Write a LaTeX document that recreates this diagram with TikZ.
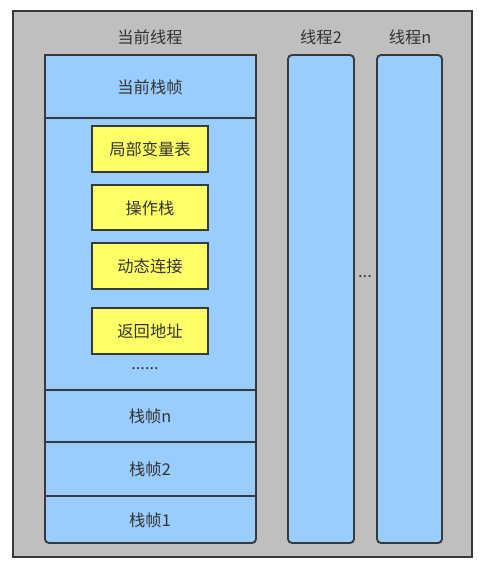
\documentclass[tikz,border=0pt]{standalone}
\usepackage{fontspec}
\newfontfamily\cjk{Noto Sans CJK SC}
\definecolor{outerfill}{HTML}{BFBFBF}
\definecolor{bluefill}{HTML}{99CCFF}
\definecolor{yellowfill}{HTML}{FFFF66}
\definecolor{strokec}{HTML}{36393D}
\definecolor{textc}{HTML}{333333}
\begin{document}
\begin{tikzpicture}[x=0.75pt,y=-0.75pt,
  every node/.style={font=\cjk\fontsize{12.2}{14}\selectfont, text=textc},
  box/.style={draw=strokec, line width=1.4pt},
  lbl/.style={inner sep=0pt, anchor=center}]
\useasboundingbox (0,0) rectangle (483,566);
\fill[white] (0,0) rectangle (483,566);
% outer container
\draw[box, fill=outerfill] (13,11) rectangle (472,557);
% current thread column
\draw[box, fill=bluefill, rounded corners=3pt] (45,55) rectangle (256,543);
\draw[box, fill=bluefill, sharp corners] (45,55) rectangle (256,118);
\draw[box] (45,390) -- (256,390);
\draw[box] (45,442) -- (256,442);
\draw[box] (45,496) -- (256,496);
% other threads
\draw[box, fill=bluefill, rounded corners=3pt] (288,55) rectangle (354,543);
\draw[box, fill=bluefill, rounded corners=3pt] (377,55) rectangle (442,543);
% yellow boxes
\draw[box, fill=yellowfill] (92,126) rectangle (208,172);
\draw[box, fill=yellowfill] (92,185) rectangle (208,230);
\draw[box, fill=yellowfill] (92,243) rectangle (208,289);
\draw[box, fill=yellowfill] (92,308) rectangle (208,354);
% labels
\node[lbl] (tcur) at (150,37) {当前线程};
\node[lbl] (t2) at (321,37) {线程2};
\node[lbl] (tn) at (410,37) {线程n};
\node[lbl] (fcur) at (150,87) {当前栈帧};
\node[lbl] (lv) at (150,149) {局部变量表};
\node[lbl] (os) at (150,208) {操作栈};
\node[lbl] (dl) at (150,266) {动态连接};
\node[lbl] (ra) at (150,331) {返回地址};
\node[lbl] (dots) at (145,369) {......};
\node[lbl] (fn) at (150,416) {栈帧n};
\node[lbl] (f2) at (150,469) {栈帧2};
\node[lbl] (f1) at (150,520) {栈帧1};
\node[lbl] (mid) at (365,277) {...};
\end{tikzpicture}
\end{document}
